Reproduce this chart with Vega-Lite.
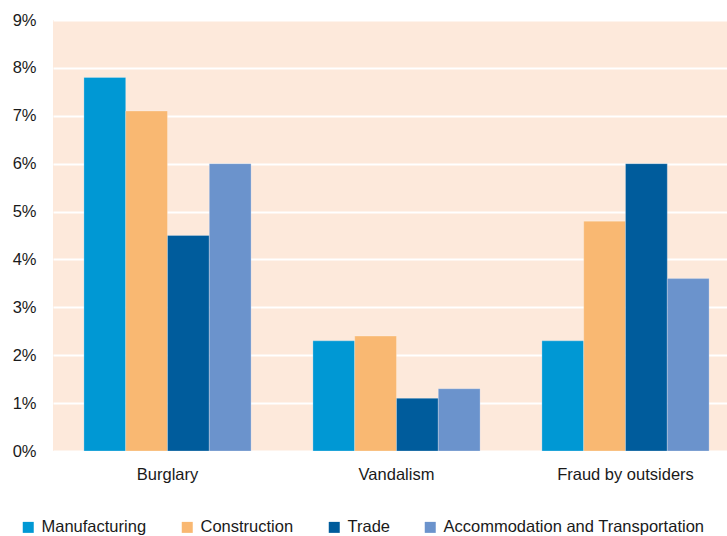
{
  "$schema": "https://vega.github.io/schema/vega-lite/v6.json",
  "width": 674,
  "height": 431,
  "autosize": "none",
  "padding": {"left": 53, "top": 20, "right": 0, "bottom": 85},
  "background": "white",
  "config": {
    "view": {"fill": "#FDE9DB", "stroke": null},
    "font": "Liberation Sans"
  },
  "data": {
    "values": [
      {"crime": "Burglary", "sector": "Manufacturing", "value": 7.8},
      {"crime": "Burglary", "sector": "Construction", "value": 7.1},
      {"crime": "Burglary", "sector": "Trade", "value": 4.5},
      {"crime": "Burglary", "sector": "Accommodation and Transportation", "value": 6.0},
      {"crime": "Vandalism", "sector": "Manufacturing", "value": 2.3},
      {"crime": "Vandalism", "sector": "Construction", "value": 2.4},
      {"crime": "Vandalism", "sector": "Trade", "value": 1.1},
      {"crime": "Vandalism", "sector": "Accommodation and Transportation", "value": 1.3},
      {"crime": "Fraud by outsiders", "sector": "Manufacturing", "value": 2.3},
      {"crime": "Fraud by outsiders", "sector": "Construction", "value": 4.8},
      {"crime": "Fraud by outsiders", "sector": "Trade", "value": 6.0},
      {"crime": "Fraud by outsiders", "sector": "Accommodation and Transportation", "value": 3.6}
    ]
  },
  "mark": {"type": "bar", "stroke": "#ffffff", "strokeWidth": 0.5, "strokeOpacity": 0.5},
  "encoding": {
    "x": {
      "field": "crime",
      "type": "nominal",
      "sort": ["Burglary", "Vandalism", "Fraud by outsiders"],
      "scale": {"range": [0, 687], "paddingInner": 0.27, "paddingOuter": 0.135},
      "axis": {
        "title": null,
        "domain": false,
        "ticks": false,
        "labelAngle": 0,
        "labelPadding": 15,
        "labelFontSize": 16.5,
        "labelColor": "#1a1a1a"
      }
    },
    "xOffset": {
      "field": "sector",
      "sort": ["Manufacturing", "Construction", "Trade", "Accommodation and Transportation"],
      "scale": {"paddingInner": 0, "paddingOuter": 0}
    },
    "y": {
      "field": "value",
      "type": "quantitative",
      "scale": {"domain": [0, 9], "nice": false},
      "axis": {
        "title": null,
        "domain": false,
        "ticks": false,
        "values": [0, 1, 2, 3, 4, 5, 6, 7, 8, 9],
        "labelExpr": "datum.value + '%'",
        "labelPadding": 17,
        "labelFontSize": 16.5,
        "labelColor": "#1a1a1a",
        "gridColor": "#ffffff",
        "gridWidth": 2,
        "gridOpacity": 1
      }
    },
    "color": {
      "field": "sector",
      "type": "nominal",
      "sort": ["Manufacturing", "Construction", "Trade", "Accommodation and Transportation"],
      "scale": {
        "domain": ["Manufacturing", "Construction", "Trade", "Accommodation and Transportation"],
        "range": ["#0098D4", "#F9B872", "#005C9C", "#6B93CC"]
      },
      "legend": {
        "title": null,
        "orient": "none",
        "direction": "horizontal",
        "legendX": -33,
        "legendY": 499,
        "symbolType": "square",
        "symbolSize": 121,
        "symbolStrokeWidth": 0,
        "symbolOpacity": 1,
        "labelFontSize": 16.5,
        "labelLimit": 0,
        "labelColor": "#1a1a1a",
        "labelOffset": 5,
        "columnPadding": 32
      }
    }
  }
}
